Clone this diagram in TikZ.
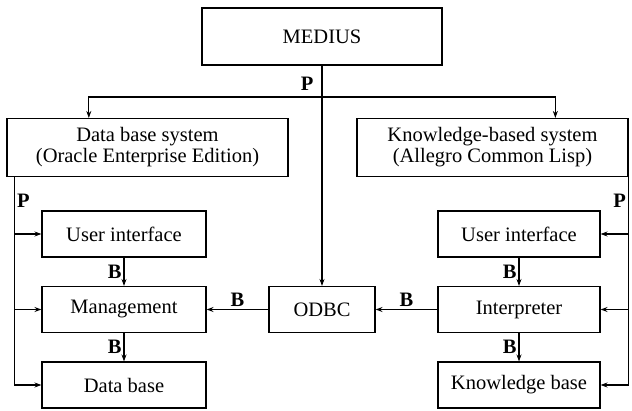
\documentclass[tikz,border=0pt]{standalone}
\usepackage{fontspec}
\setmainfont{Liberation Serif}
\usetikzlibrary{calc, arrows.meta}
\tikzset{>={Stealth[length=7pt, width=5pt]}}

\begin{document}
\begin{tikzpicture}[x=1pt, y=-1pt, line width=1.1pt,
	box/.style={draw, align=center, inner sep=2pt, font=\fontsize{20.5}{21}\selectfont},
	lbl/.style={inner sep=2pt, font=\fontsize{20.5}{21}\selectfont\bfseries}]
	\useasboundingbox (0,0) rectangle (632,411);
	\node (medius) at (322,36.5) [box, minimum width=240pt, minimum height=57pt] {MEDIUS};
	\node (dbs) at (147.5,147.5) [box, minimum width=281pt, minimum height=58pt] {Data base system\\(Oracle Enterprise Edition)};
	\node (kbs) at (492.5,147.5) [box, minimum width=271pt, minimum height=58pt] {Knowledge-based system\\(Allegro Common Lisp)};
	\node (ui1) at (124,234) [box, minimum width=164pt, minimum height=46pt] {User interface};
	\node (mgmt) at (124,309.5) [box, minimum width=164pt, minimum height=46pt] {Management};
	\node (db) at (124,385) [box, minimum width=164pt, minimum height=46pt] {Data base};
	\node (odbc) at (322,309.5) [box, minimum width=106pt, minimum height=46pt] {ODBC};
	\node (ui2) at (519,234) [box, minimum width=162pt, minimum height=46pt] {User interface};
	\node (interp) at (519,309.5) [box, minimum width=162pt, minimum height=46pt] {Interpreter};
	\node (kb) at (519,385) [box, minimum width=162pt, minimum height=46pt] {Knowledge base};
	% top distribution
	\coordinate (split) at (medius.south |- 0,97);
	\draw[->] (medius.south) -- node[lbl, pos=0.081, left=6pt] {P} (odbc.north);
	\draw[->] (split) -| ($(dbs.north west)!0.292!(dbs.north east)$);
	\draw[->] (split) -| ($(kbs.north west)!0.731!(kbs.north east)$);
	% left side
	\coordinate (lbus) at ($(dbs.south west)+(8,0)$);
	\draw[->] (lbus) |- (db.west);
	\draw[->] (lbus |- ui1.west) -- (ui1.west);
	\draw[->] (lbus |- mgmt.west) -- (mgmt.west);
	\node (pdb) at ($(lbus)+(0,24)$) [lbl, right] {P};
	\draw[->] (ui1) -- node[lbl, left] {B} (mgmt);
	\draw[->] (mgmt) -- node[lbl, left] {B} (db);
	% right side
	\coordinate (rbus) at (kbs.south east);
	\draw[->] (rbus) |- (kb.east);
	\draw[->] (rbus |- ui2.east) -- (ui2.east);
	\draw[->] (rbus |- interp.east) -- (interp.east);
	\node (pkb) at ($(rbus)+(0,24)$) [lbl, left] {P};
	\draw[->] (ui2) -- node[lbl, left] {B} (interp);
	\draw[->] (interp) -- node[lbl, left] {B} (kb);
	% odbc links
	\draw[->] (odbc) -- node[lbl, above] {B} (mgmt);
	\draw[->] (interp) -- node[lbl, above] {B} (odbc);
\end{tikzpicture}
\end{document}
